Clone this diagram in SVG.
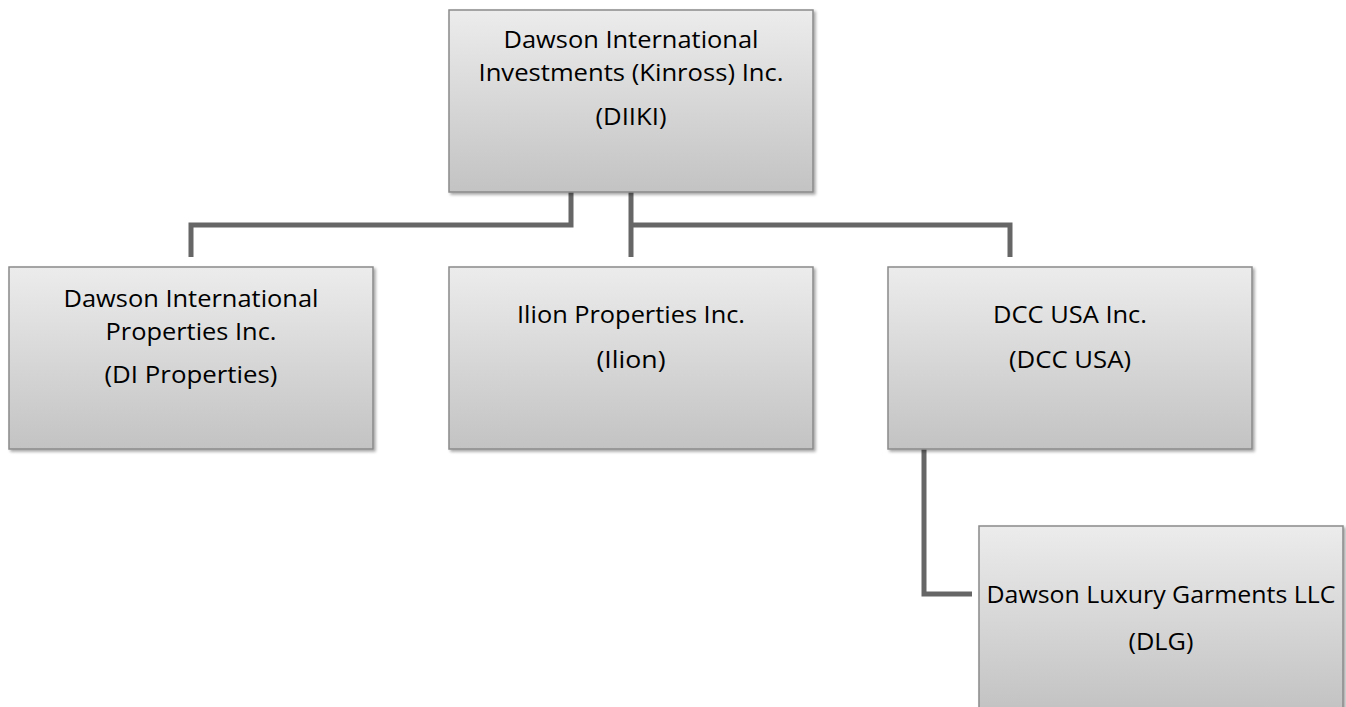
<svg xmlns="http://www.w3.org/2000/svg" width="1346" height="707" viewBox="0 0 1346 707">
<style>
.box{fill:url(#g);stroke:#8a8a8a;stroke-width:1.5;filter:url(#sh)}
.t{font-family:"Open Sans","Liberation Sans",sans-serif;font-size:23px;fill:#000;text-anchor:middle}
.c{fill:none;stroke:#666;stroke-width:5;stroke-linejoin:miter}
</style>
<defs>
<linearGradient id="g" x1="0" y1="0" x2="0" y2="1">
<stop offset="0" stop-color="#ececec"/>
<stop offset="1" stop-color="#c3c3c3"/>
</linearGradient>
<filter id="sh" x="-5%" y="-5%" width="112%" height="115%">
<feDropShadow dx="2" dy="2" stdDeviation="1.5" flood-color="#000" flood-opacity="0.35"/>
</filter>
</defs>
<rect width="1346" height="707" fill="#fff"/>
<g id="connectors">
<polyline class="c" points="571,192 571,225 191,225 191,257"/>
<line class="c" x1="631" y1="192" x2="631" y2="257"/>
<polyline class="c" points="631,225 1010,225 1010,257"/>
<polyline class="c" points="924,449 924,594 972,594"/>
</g>
<g id="diiki">
<rect class="box" x="449" y="10" width="364" height="182"/>
<text class="t" x="631" y="48" textLength="255" lengthAdjust="spacingAndGlyphs">Dawson International</text>
<text class="t" x="631" y="81" textLength="305" lengthAdjust="spacingAndGlyphs">Investments (Kinross) Inc.</text>
<text class="t" x="631" y="125" textLength="71" lengthAdjust="spacingAndGlyphs">(DIIKI)</text>
</g>
<g id="diprop">
<rect class="box" x="9" y="267" width="364" height="182"/>
<text class="t" x="191" y="307" textLength="255" lengthAdjust="spacingAndGlyphs">Dawson International</text>
<text class="t" x="191" y="340" textLength="171" lengthAdjust="spacingAndGlyphs">Properties Inc.</text>
<text class="t" x="191" y="383" textLength="173" lengthAdjust="spacingAndGlyphs">(DI Properties)</text>
</g>
<g id="ilion">
<rect class="box" x="449" y="267" width="364" height="182"/>
<text class="t" x="631" y="323" textLength="228" lengthAdjust="spacingAndGlyphs">Ilion Properties Inc.</text>
<text class="t" x="631" y="368" textLength="69" lengthAdjust="spacingAndGlyphs">(Ilion)</text>
</g>
<g id="dccusa">
<rect class="box" x="888" y="267" width="364" height="182"/>
<text class="t" x="1070" y="323" textLength="154" lengthAdjust="spacingAndGlyphs">DCC USA Inc.</text>
<text class="t" x="1070" y="368" textLength="122" lengthAdjust="spacingAndGlyphs">(DCC USA)</text>
</g>
<g id="dlg">
<rect class="box" x="979" y="526" width="364" height="182"/>
<text class="t" x="1161" y="603" textLength="349" lengthAdjust="spacingAndGlyphs">Dawson Luxury Garments LLC</text>
<text class="t" x="1161" y="650" textLength="65" lengthAdjust="spacingAndGlyphs">(DLG)</text>
</g>
</svg>
